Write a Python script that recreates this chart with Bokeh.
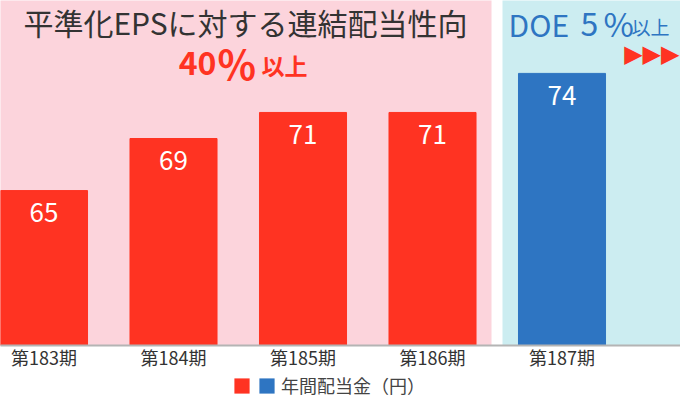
import math
from bokeh.plotting import figure
from bokeh.layouts import column
from bokeh.core.properties import value
from bokeh.models import (Range1d, FixedTicker, ColumnDataSource, BoxAnnotation,
                          Label, LabelSet, Legend, LegendItem)
from bokeh.embed import file_html
from bokeh.resources import INLINE

# ---- data ----
periods = ["第183期", "第184期", "第185期", "第186期", "第187期"]
dividends = [65, 69, 71, 71, 74]
bar_colors = ["#ff3322", "#ff3322", "#ff3322", "#ff3322", "#2e75c2"]
legend_label = "年間配当金（円）"
title_main = "平準化EPSに対する連結配当性向"
title_pct = "40"
title_pct_sign = "%"
title_suffix = "以上"
doe_label = "DOE"
doe_value = "5"
doe_sign = "%"

RED = "#ff3322"
BLUE = "#2e75c2"
PINK = "#fcd4dc"
LBLUE = "#ccedf1"
JP = "Noto Sans CJK JP"

W = 680
FRAME_H = 345
H1 = 372          # main chart (frame + axis)
H2 = 26           # legend strip
X0, X1 = -0.336, 4.915
Y0, Y1 = 53.1, 79.6

def xd(px):
    return X0 + px * (X1 - X0) / W

def yd(py):
    return Y1 - py * (Y1 - Y0) / FRAME_H

xs = list(range(len(periods)))
src = ColumnDataSource(dict(x=xs, top=dividends, color=bar_colors,
                            label=[str(v) for v in dividends]))

p = figure(width=W, height=H1, output_backend="svg", toolbar_location=None,
           x_range=Range1d(X0, X1), y_range=Range1d(Y0, Y1),
           x_axis_location="below", y_axis_location=None,
           min_border_left=0, min_border_right=0, min_border_top=0,
           min_border_bottom=H1 - FRAME_H)
p.outline_line_color = None
p.grid.visible = False
p.background_fill_color = "white"
p.border_fill_color = "white"

# background panels
p.add_layout(BoxAnnotation(left=X0 - 1, right=xd(491), bottom=Y0, top=Y1 + 5,
                           fill_color=PINK, fill_alpha=1, line_color=None, level="underlay"))
p.add_layout(BoxAnnotation(left=xd(502), right=X1 + 1, bottom=Y0, top=Y1 + 5,
                           fill_color=LBLUE, fill_alpha=1, line_color=None, level="underlay"))

r = p.vbar(x="x", top="top", bottom=Y0, width=0.672, color="color", source=src)

p.add_layout(LabelSet(x="x", y="top", text="label", source=src, y_offset=-22,
                      text_align="center", text_baseline="middle",
                      text_color="white", text_font_size="26px", text_font=value(JP)))

# axis
ax = p.xaxis[0]
ax.ticker = FixedTicker(ticks=xs)
ax.major_label_overrides = {i: s for i, s in zip(xs, periods)}
ax.major_tick_line_color = None
ax.minor_tick_line_color = None
ax.major_tick_out = 0
ax.axis_line_color = "#b4b4b4"
ax.axis_line_width = 2
ax.major_label_text_font = JP
ax.major_label_text_font_size = "18px"
ax.major_label_text_color = "#333333"
ax.major_label_standoff = -2

# titles
def add_text(px, py, text, size, color, bold=False, align="left", font=JP):
    p.add_layout(Label(x=xd(px), y=yd(py), text=text, text_align=align,
                       text_baseline="middle", text_font=font, text_font_size=size,
                       text_font_style="bold" if bold else "normal", text_color=color))

add_text(245, 21, title_main, "30px", "#333333", align="center")
add_text(216, 62, title_pct, "32px", RED, bold=True, align="right")
add_text(217, 62, title_pct_sign, "40px", RED, bold=True)
add_text(261, 64, title_suffix, "23px", RED, bold=True)

add_text(508, 23, doe_label, "30px", BLUE)
add_text(580, 23.5, doe_value, "32px", BLUE)
add_text(603, 22, doe_sign, "33px", BLUE)
add_text(631, 26, title_suffix, "19px", BLUE)
add_text(679, 53, "▶▶▶", "24px", RED, align="right", font="DejaVu Sans")

# legend strip
q = figure(width=W, height=H2, output_backend="svg", toolbar_location=None,
           x_range=Range1d(100, 101), y_range=Range1d(100, 101),
           x_axis_location=None, y_axis_location=None,
           min_border=0)
q.outline_line_color = None
q.grid.visible = False
q.background_fill_color = "white"
q.border_fill_color = "white"
rq = q.vbar(x="x", top="top", bottom=Y0, width=0.672, fill_color="color",
            line_color=None, source=src)
legend = Legend(items=[LegendItem(label="", renderers=[rq], index=0),
                       LegendItem(label=legend_label, renderers=[rq], index=4)],
                orientation="horizontal", location=(232, 0),
                glyph_width=19, glyph_height=19, label_width=0, label_standoff=5,
                spacing=1, padding=0, margin=0, border_line_color=None,
                background_fill_alpha=0,
                label_text_font=JP, label_text_font_size="18px",
                label_text_color="#444444")
q.add_layout(legend)

layout = column(p, q, spacing=0)
open("out.html", "w").write(file_html(layout, INLINE))
